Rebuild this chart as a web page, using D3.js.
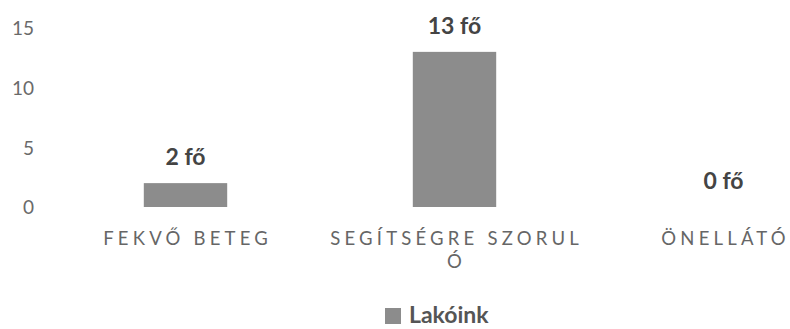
<!DOCTYPE html>
<html>
<head>
<meta charset="utf-8">
<script src="https://cdn.jsdelivr.net/npm/d3@7"></script>
<style>
  html, body { margin: 0; padding: 0; background: #ffffff; }
  svg { display: block; }
  text { font-family: Lato, "Open Sans", "DejaVu Sans", sans-serif; }
</style>
</head>
<body>
<svg id="chart" width="790" height="329"></svg>
<script>
// ---- data ----
const categories = ["FEKVŐ BETEG", "SEGÍTSÉGRE SZORULÓ", "ÖNELLÁTÓ"];
const values = [2, 13, 0];
const unit = "fő";
const seriesName = "Lakóink";
const yTicks = [0, 5, 10, 15];

// ---- layout ----
const svg = d3.select("#chart");

const x = d3.scaleBand()
  .domain(categories)
  .range([51, 858])
  .paddingInner(0.69)
  .paddingOuter(0.345);

const y = d3.scaleLinear()
  .domain([0, 15])
  .range([207, 28]);

const barColor = "#8c8c8c";

// y axis (labels only)
const yAxis = d3.axisLeft(y).tickValues(yTicks).tickSize(0).tickPadding(0);
const yg = svg.append("g").attr("transform", "translate(34,0)").call(yAxis);
yg.select(".domain").remove();
yg.selectAll("text")
  .attr("font-family", "Lato, 'Open Sans', sans-serif")
  .attr("font-size", 19)
  .attr("fill", "#6a6a6a")
  .attr("dy", "0.36em");

// bars
svg.append("g").selectAll("rect")
  .data(values)
  .join("rect")
  .attr("x", (d, i) => x(categories[i]))
  .attr("width", x.bandwidth())
  .attr("y", d => y(d))
  .attr("height", d => y(0) - y(d))
  .attr("fill", barColor);

// data labels
svg.append("g").selectAll("text")
  .data(values)
  .join("text")
  .attr("x", (d, i) => x(categories[i]) + x.bandwidth() / 2)
  .attr("y", d => y(d) - 18)
  .attr("text-anchor", "middle")
  .attr("font-size", 23)
  .attr("font-weight", "bold")
  .attr("fill", "#444444")
  .text(d => d + " " + unit);

// category labels (letter-spaced, wrapped by character)
const ls = 4.2;
const catFont = 18.5;
const lineH = 23;
const maxW = x.step();
const cg = svg.append("g");
categories.forEach((c, i) => {
  const probe = svg.append("text").attr("font-size", catFont).attr("letter-spacing", ls)
    .attr("font-family", "Lato, 'Open Sans', sans-serif");
  let lines = [];
  let cur = "";
  for (const ch of c) {
    probe.text(cur + ch);
    if (probe.node().getComputedTextLength() > maxW && cur.length) {
      lines.push(cur.trimEnd());
      cur = ch === " " ? "" : ch;
    } else {
      cur += ch;
    }
  }
  lines.push(cur);
  const t = cg.append("text")
    .attr("font-size", catFont)
    .attr("letter-spacing", ls)
    .attr("fill", "#666666");
  const cx = x(c) + x.bandwidth() / 2;
  lines.forEach((ln, k) => {
    probe.text(ln);
    const w = probe.node().getComputedTextLength() - ls;
    t.append("tspan").attr("x", cx - w / 2).attr("y", 245 + k * lineH).text(ln);
  });
  probe.remove();
});

// legend
const lg = svg.append("g").attr("transform", "translate(385,308)");
lg.append("rect").attr("width", 16).attr("height", 16).attr("fill", barColor);
lg.append("text")
  .attr("x", 24).attr("y", 15)
  .attr("font-size", 23)
  .attr("font-weight", "bold")
  .attr("fill", "#555555")
  .text(seriesName);
</script>
</body>
</html>
